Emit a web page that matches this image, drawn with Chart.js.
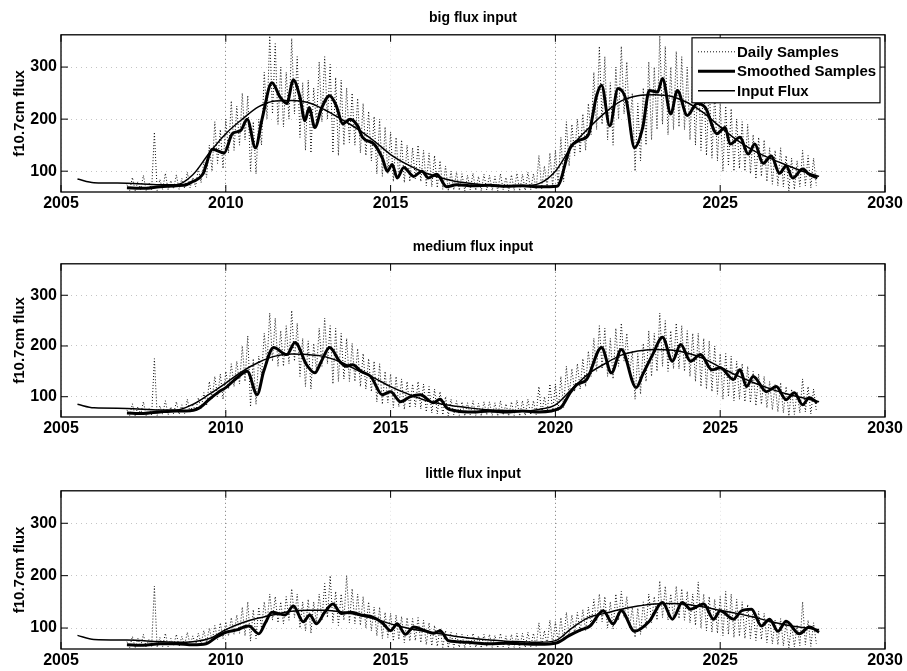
<!DOCTYPE html>
<html>
<head>
<meta charset="utf-8">
<script src="https://cdn.jsdelivr.net/npm/chart.js@4.4.1/dist/chart.umd.min.js"></script>
<style>
body{margin:0;background:#fff;}
canvas{position:absolute;left:0;}
</style>
</head>
<body>
<canvas id="big" width="907" height="229" style="top:0px"></canvas>
<canvas id="medium" width="907" height="227" style="top:229px"></canvas>
<canvas id="little" width="907" height="215" style="top:456px"></canvas>
<script>
const xTicks = [2005, 2010, 2015, 2020, 2025, 2030];
const yTicks = [100, 200, 300];

// input flux, same years for all three panels
const inputYears = [2005.5, 2006, 2007, 2008, 2008.5, 2009, 2009.5, 2010, 2010.5, 2011,
  2011.5, 2012, 2012.5, 2013, 2013.5, 2014, 2014.5, 2015, 2015.5, 2016,
  2016.5, 2017, 2017.5, 2018, 2018.5, 2019, 2019.5, 2020, 2020.5, 2021,
  2021.5, 2022, 2022.5, 2023, 2023.5, 2024, 2024.5, 2025, 2025.5, 2026,
  2026.5, 2027, 2027.5, 2028];
const inputBig = [85, 78, 77, 74, 74, 93, 135, 172, 200, 224,
  235, 236, 232, 218, 200, 181, 158, 132, 113, 98,
  88, 80, 76, 73, 72, 72, 76, 100, 148, 182,
  212, 235, 245, 247, 244, 232, 212, 185, 160, 140,
  125, 112, 100, 90];
const inputMedium = [85, 78, 77, 74, 74, 85, 105, 127, 150, 168,
  180, 184, 183, 179, 168, 152, 137, 120, 106, 94,
  86, 81, 77, 74, 73, 72, 75, 84, 115, 145,
  165, 182, 190, 193, 192, 186, 175, 158, 142, 128,
  116, 106, 98, 90];
const inputLittle = [86, 78, 77, 74, 73, 74, 80, 97, 110, 119,
  126, 132, 134, 134, 131, 125, 118, 108, 100, 94,
  89, 84, 80, 77, 75, 74, 73, 76, 100, 120,
  128, 136, 142, 146, 147, 145, 140, 134, 128, 121,
  113, 106, 101, 97];

// smoothed samples
const smoothBigT = [2007.0, 2007.5, 2008.0, 2008.5, 2008.8, 2009.0, 2009.3, 2009.6, 2009.95, 2010.2,
  2010.45, 2010.65, 2010.9, 2011.1, 2011.4, 2011.65, 2011.85, 2012.05, 2012.25, 2012.4,
  2012.53, 2012.7, 2012.9, 2013.15, 2013.35, 2013.55, 2013.77, 2014.0, 2014.15, 2014.5,
  2014.75, 2014.9, 2015.05, 2015.2, 2015.4, 2015.7, 2015.95, 2016.15, 2016.4, 2016.7,
  2017.0, 2017.5, 2018.0, 2018.5, 2019.0, 2019.5, 2020.05, 2020.45, 2020.75, 2021.0,
  2021.25, 2021.4, 2021.65, 2021.9, 2022.15, 2022.4, 2022.65, 2022.85, 2023.1, 2023.25,
  2023.5, 2023.7, 2024.0, 2024.3, 2024.55, 2024.9, 2025.15, 2025.3, 2025.6, 2025.85,
  2026.05, 2026.3, 2026.55, 2026.8, 2027.0, 2027.2, 2027.5, 2027.7, 2027.95];
const smoothBig = [68, 67, 70, 72, 74, 80, 94, 142, 135, 172,
  178, 200, 145, 200, 270, 242, 230, 275, 242, 197,
  222, 184, 220, 245, 226, 191, 200, 187, 165, 152,
  125, 100, 113, 87, 107, 90, 100, 87, 94, 70,
  74, 72, 73, 71, 72, 70, 71, 145, 160, 170,
  245, 265, 187, 259, 236, 145, 184, 255, 252, 278,
  210, 255, 207, 230, 222, 172, 184, 152, 165, 133,
  152, 115, 129, 96, 110, 87, 104, 94, 87];

const smoothMediumT = [2007.0, 2007.5, 2008.0, 2008.5, 2008.8, 2009.2, 2009.5, 2009.8, 2010.0, 2010.35,
  2010.65, 2010.95, 2011.15, 2011.45, 2011.85, 2012.1, 2012.45, 2012.7, 2012.9, 2013.15,
  2013.45, 2013.65, 2013.85, 2014.1, 2014.4, 2014.75, 2015.0, 2015.3, 2015.6, 2015.9,
  2016.3, 2016.5, 2016.7, 2017.0, 2017.5, 2018.0, 2018.5, 2019.0, 2019.5, 2020.15,
  2020.45, 2020.65, 2020.95, 2021.4, 2021.7, 2022.0, 2022.45, 2022.65, 2022.95, 2023.25,
  2023.55, 2023.8, 2024.1, 2024.4, 2024.75, 2025.0, 2025.4, 2025.6, 2025.8, 2026.0,
  2026.4, 2026.7, 2027.0, 2027.25, 2027.5, 2027.7, 2027.95];
const smoothMedium = [68, 67, 70, 72, 72, 78, 95, 110, 118, 138,
  150, 104, 150, 197, 183, 207, 163, 147, 170, 197,
  170, 160, 163, 150, 140, 104, 110, 90, 100, 104,
  88, 95, 78, 72, 70, 72, 70, 72, 70, 78,
  108, 124, 134, 197, 147, 193, 118, 144, 183, 217,
  170, 203, 170, 183, 153, 157, 134, 153, 120, 140,
  110, 120, 94, 108, 84, 98, 88];

const smoothLittleT = [2007.0, 2007.5, 2008.0, 2008.5, 2009.0, 2009.4, 2009.7, 2010.0, 2010.3, 2010.7,
  2011.0, 2011.2, 2011.4, 2011.8, 2012.05, 2012.35, 2012.55, 2012.75, 2013.0, 2013.25,
  2013.5, 2013.8, 2014.1, 2014.4, 2014.75, 2015.0, 2015.2, 2015.45, 2015.7, 2016.0,
  2016.3, 2016.5, 2016.75, 2017.0, 2017.5, 2018.0, 2018.5, 2019.0, 2019.5, 2020.05,
  2020.4, 2020.75, 2021.05, 2021.45, 2021.75, 2022.0, 2022.4, 2022.85, 2023.25, 2023.55,
  2023.85, 2024.1, 2024.5, 2024.8, 2025.0, 2025.4, 2025.65, 2025.95, 2026.25, 2026.5,
  2026.75, 2027.0, 2027.4, 2027.7, 2028.0];
const smoothLittle = [68, 67, 70, 70, 68, 70, 82, 92, 96, 104,
  89, 110, 130, 125, 142, 112, 125, 108, 130, 146,
  128, 130, 125, 122, 110, 95, 108, 88, 102, 96,
  90, 95, 76, 74, 72, 70, 71, 70, 69, 72,
  85, 96, 104, 133, 108, 133, 94, 113, 149, 117,
  149, 136, 146, 117, 133, 117, 133, 136, 104, 117,
  94, 113, 89, 102, 92];

// daily samples, one reading per month from 2007.0 (one row per year)
const dailyBig = [
  74, 63, 88, 62, 80, 65, 92, 63, 78, 64, 175, 63,
  84, 65, 96, 64, 82, 66, 93, 65, 86, 67, 98, 68,
  88, 70, 105, 78, 118, 88, 150, 100, 195, 115, 180, 105,
  200, 135, 235, 140, 225, 150, 250, 160, 245, 100, 195, 95,
  200, 150, 290, 200, 360, 210, 345, 190, 300, 185, 290, 200,
  355, 210, 320, 165, 270, 140, 275, 135, 260, 190, 310, 195,
  320, 200, 305, 135, 280, 130, 275, 150, 260, 155, 250, 150,
  240, 135, 230, 130, 215, 120, 205, 95, 200, 90, 185, 95,
  175, 80, 165, 85, 160, 78, 150, 80, 145, 85, 150, 80,
  140, 72, 135, 70, 130, 68, 120, 65, 110, 62, 100, 64,
  98, 63, 95, 62, 92, 64, 96, 63, 90, 62, 94, 64,
  92, 63, 90, 62, 95, 64, 88, 62, 93, 63, 96, 62,
  94, 63, 98, 64, 95, 65, 130, 66, 110, 68, 135, 70,
  140, 72, 165, 80, 195, 110, 190, 130, 200, 135, 210, 140,
  230, 170, 290, 180, 340, 190, 320, 160, 270, 150, 300, 200,
  340, 210, 310, 180, 250, 100, 230, 120, 260, 150, 310, 160,
  300, 180, 360, 190, 340, 170, 300, 180, 330, 185, 320, 180,
  300, 160, 290, 150, 300, 140, 280, 130, 270, 125, 250, 120,
  230, 100, 225, 110, 220, 100, 200, 105, 195, 100, 190, 95,
  170, 85, 165, 90, 160, 80, 145, 75, 140, 72, 145, 70,
  130, 62, 125, 65, 120, 70, 140, 72, 130, 68, 125, 72];
const dailyMedium = [
  74, 63, 86, 62, 80, 65, 90, 63, 78, 64, 175, 63,
  82, 65, 92, 64, 80, 66, 90, 65, 84, 67, 95, 68,
  86, 70, 98, 75, 108, 82, 130, 95, 140, 100, 145, 95,
  150, 115, 165, 120, 170, 125, 200, 130, 220, 80, 175, 85,
  180, 140, 225, 165, 265, 170, 255, 160, 230, 160, 240, 165,
  270, 170, 245, 140, 215, 120, 210, 115, 205, 150, 235, 160,
  255, 165, 240, 125, 235, 130, 225, 135, 215, 130, 205, 130,
  195, 120, 185, 115, 175, 110, 170, 90, 165, 85, 150, 88,
  145, 78, 140, 80, 135, 75, 130, 78, 125, 80, 130, 76,
  125, 70, 120, 68, 115, 66, 110, 64, 100, 62, 95, 64,
  92, 63, 90, 62, 88, 64, 92, 63, 87, 62, 90, 64,
  90, 63, 88, 62, 92, 64, 86, 62, 90, 63, 93, 62,
  92, 63, 95, 64, 92, 65, 120, 66, 100, 68, 125, 70,
  125, 72, 140, 78, 160, 100, 155, 110, 165, 115, 175, 120,
  190, 140, 215, 150, 240, 155, 235, 140, 215, 135, 235, 160,
  245, 170, 225, 145, 190, 95, 185, 105, 205, 130, 230, 140,
  225, 150, 265, 160, 250, 150, 230, 155, 245, 155, 240, 150,
  230, 140, 225, 130, 225, 120, 215, 115, 210, 110, 200, 105,
  185, 95, 185, 100, 180, 92, 170, 95, 165, 90, 160, 88,
  150, 82, 145, 85, 140, 78, 130, 74, 125, 70, 128, 68,
  120, 62, 115, 65, 110, 68, 135, 70, 120, 66, 115, 72];
const dailyLittle = [
  74, 63, 84, 62, 80, 65, 88, 63, 78, 64, 180, 63,
  82, 65, 90, 64, 80, 66, 88, 65, 84, 67, 92, 68,
  85, 68, 90, 70, 95, 72, 100, 75, 105, 78, 110, 80,
  112, 85, 120, 88, 125, 90, 140, 85, 150, 75, 135, 80,
  140, 100, 150, 110, 165, 115, 160, 110, 150, 108, 160, 115,
  175, 120, 165, 100, 150, 95, 155, 90, 150, 110, 165, 115,
  185, 120, 200, 110, 170, 105, 165, 115, 200, 110, 175, 108,
  165, 105, 160, 100, 150, 95, 140, 85, 140, 80, 130, 82,
  128, 75, 125, 78, 122, 72, 120, 75, 118, 76, 120, 72,
  115, 68, 110, 66, 105, 65, 100, 63, 95, 62, 92, 63,
  90, 63, 88, 62, 86, 64, 90, 63, 85, 62, 88, 64,
  88, 63, 86, 62, 90, 64, 85, 62, 88, 63, 90, 62,
  90, 63, 92, 64, 90, 65, 110, 66, 95, 68, 115, 70,
  112, 72, 120, 76, 130, 85, 125, 90, 130, 92, 135, 95,
  140, 105, 155, 110, 165, 112, 160, 100, 150, 98, 165, 115,
  170, 120, 160, 100, 140, 82, 138, 88, 150, 100, 165, 110,
  160, 115, 190, 120, 180, 115, 165, 118, 180, 118, 175, 115,
  170, 110, 165, 105, 188, 100, 165, 95, 160, 92, 155, 90,
  160, 85, 170, 88, 165, 82, 155, 84, 150, 80, 145, 80,
  135, 76, 132, 78, 128, 72, 120, 70, 115, 68, 118, 66,
  112, 62, 108, 64, 105, 66, 150, 68, 115, 65, 110, 70];

const FONT = "'Liberation Sans', Arial, Helvetica, sans-serif";

// box and inward tick marks like the original plot
const frameTicks = {
  id: 'frameTicks',
  afterDatasetsDraw(chart) {
    const {ctx, chartArea: a, scales} = chart;
    ctx.save();
    ctx.strokeStyle = '#000';
    ctx.lineWidth = 1.3;
    ctx.strokeRect(a.left, a.top, a.right - a.left, a.bottom - a.top);
    ctx.lineWidth = 1;
    ctx.beginPath();
    xTicks.forEach(v => {
      const px = scales.x.getPixelForValue(v);
      ctx.moveTo(px, a.top); ctx.lineTo(px, a.top + 7);
      ctx.moveTo(px, a.bottom); ctx.lineTo(px, a.bottom - 7);
    });
    yTicks.forEach(v => {
      const py = scales.y.getPixelForValue(v);
      ctx.moveTo(a.left, py); ctx.lineTo(a.left + 7, py);
      ctx.moveTo(a.right, py); ctx.lineTo(a.right - 7, py);
    });
    ctx.stroke();
    ctx.restore();
  }
};

const boxLegend = {
  id: 'boxLegend',
  afterDraw(chart) {
    if (!chart.options.plugins.boxLegend.show) return;
    const {ctx, chartArea: a} = chart;
    const w = 188, h = 65;
    const left = a.right - 5 - w, top = a.top + 3;
    ctx.save();
    ctx.fillStyle = '#fff';
    ctx.fillRect(left, top, w, h);
    ctx.strokeStyle = '#000';
    ctx.lineWidth = 1.2;
    ctx.strokeRect(left, top, w, h);
    ctx.font = 'bold 15px ' + FONT;
    ctx.textBaseline = 'middle';
    ctx.fillStyle = '#000';
    chart.data.datasets.forEach((ds, i) => {
      const cy = top + 14 + i * 19.5;
      ctx.beginPath();
      ctx.lineWidth = ds.borderWidth;
      ctx.setLineDash(ds.borderDash || []);
      ctx.strokeStyle = ds.borderColor;
      ctx.moveTo(left + 6, cy);
      ctx.lineTo(left + 43, cy);
      ctx.stroke();
      ctx.setLineDash([]);
      ctx.fillText(ds.label, left + 45, cy + 1);
    });
    ctx.restore();
  }
};

function makeChart(id, title, daily, smoothT, smooth, input, legend, padBottom) {
  return new Chart(document.getElementById(id), {
    type: 'line',
    data: {
      datasets: [
        {
          label: 'Daily Samples',
          data: daily.map((v, i) => ({x: 2007 + i / 12, y: v})),
          borderColor: '#111',
          borderWidth: 1,
          borderDash: [1, 2],
          tension: 0,
          order: 3
        },
        {
          label: 'Smoothed Samples',
          data: smoothT.map((t, i) => ({x: t, y: smooth[i]})),
          borderColor: '#000',
          borderWidth: 3,
          cubicInterpolationMode: 'monotone',
          order: 2
        },
        {
          label: 'Input Flux',
          data: inputYears.map((t, i) => ({x: t, y: input[i]})),
          borderColor: '#000',
          borderWidth: 1.5,
          cubicInterpolationMode: 'monotone',
          order: 1
        }
      ]
    },
    options: {
      responsive: false,
      animation: false,
      layout: {padding: {left: 0, right: 22, top: 0, bottom: padBottom}},
      elements: {point: {radius: 0}},
      plugins: {
        legend: {display: false},
        tooltip: {enabled: false},
        boxLegend: {show: legend},
        title: {
          display: true,
          text: title,
          fullSize: false,
          color: '#000',
          font: {family: FONT, size: 14, weight: 'bold'},
          padding: {top: 10, bottom: 8}
        }
      },
      scales: {
        x: {
          type: 'linear',
          min: 2005,
          max: 2030,
          afterBuildTicks: s => { s.ticks = xTicks.map(v => ({value: v})); },
          afterFit: s => { s.height = 20; s.paddingLeft = 0; s.paddingRight = 0; },
          ticks: {
            color: '#000',
            font: {family: FONT, size: 16, weight: 'bold'},
            padding: 2,
            maxRotation: 0,
            autoSkip: false,
            callback: v => String(v)
          },
          grid: {
            drawTicks: false,
            color: c => (c.tick && (c.tick.value === 2010 || c.tick.value === 2020)) ? '#777' : '#e6e6e6'
          },
          border: {display: false, dash: [1, 3]}
        },
        y: {
          min: 60,
          max: 362,
          afterBuildTicks: s => { s.ticks = yTicks.map(v => ({value: v})); },
          afterFit: s => { s.width = 61; s.paddingTop = 0; s.paddingBottom = 0; },
          title: {
            display: true,
            text: 'f10.7cm flux',
            color: '#000',
            font: {family: FONT, size: 15, weight: 'bold'},
            padding: {top: 11, bottom: 0}
          },
          ticks: {
            color: '#000',
            font: {family: FONT, size: 16, weight: 'bold'},
            padding: 4,
            callback: v => String(v)
          },
          grid: {drawTicks: false, color: '#c4c4c4'},
          border: {display: false, dash: [1, 4]}
        }
      }
    },
    plugins: [frameTicks, boxLegend]
  });
}

makeChart('big', 'big flux input', dailyBig, smoothBigT, smoothBig, inputBig, true, 17);
makeChart('medium', 'medium flux input', dailyMedium, smoothMediumT, smoothMedium, inputMedium, false, 19);
makeChart('little', 'little flux input', dailyLittle, smoothLittleT, smoothLittle, inputLittle, false, 2);
</script>
</body>
</html>
